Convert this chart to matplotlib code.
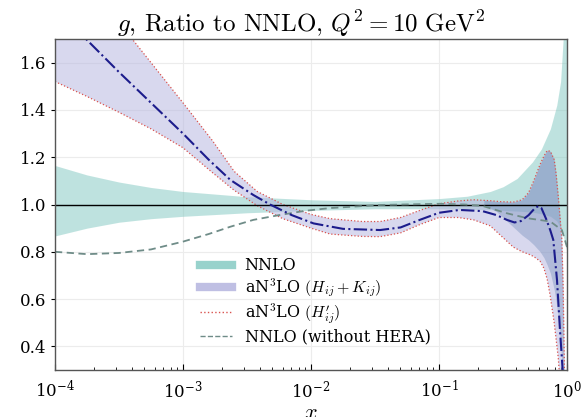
import numpy as np
import matplotlib
matplotlib.use("Agg")
import matplotlib.pyplot as plt
from matplotlib.lines import Line2D

plt.rcParams["font.family"] = "DejaVu Serif"
plt.rcParams["mathtext.fontset"] = "cm"

# ---- valores (log10 x) ----
# banda NNLO
nnlo_lx = [-4, -3.75, -3.5, -3.25, -3, -2.5, -2, -1.5, -1, -0.78, -0.6, -0.5,
           -0.39, -0.27, -0.2, -0.13, -0.08, -0.05, -0.03, 0]
nnlo_up = [1.165, 1.125, 1.095, 1.072, 1.055, 1.033, 1.02, 1.013, 1.025, 1.035,
           1.055, 1.075, 1.11, 1.18, 1.235, 1.32, 1.42, 1.52, 1.7, 1.9]
nnlo_lo = [0.867, 0.90, 0.925, 0.94, 0.95, 0.965, 0.975, 0.982, 0.982, 0.98,
           0.978, 0.975, 0.972, 0.968, 0.96, 0.95, 0.93, 0.9, 0.87, 0.8]

# banda aN3LO (bordas vermelhas pontilhadas)
n3_lx = [-4, -3.75, -3.5, -3.25, -3.0, -2.77, -2.6, -2.42, -2.22, -2.0, -1.85,
         -1.6, -1.46, -1.3, -1.15, -1.0, -0.85, -0.73, -0.6, -0.52, -0.42,
         -0.35, -0.3, -0.26, -0.21, -0.18, -0.155, -0.13, -0.10, -0.085,
         -0.068, -0.055, -0.04, -0.03, -0.02, 0]
n3_up = [2.11, 1.94, 1.77, 1.60, 1.43, 1.27, 1.14, 1.055, 1.0, 0.958, 0.94,
         0.928, 0.928, 0.945, 0.975, 1.003, 1.015, 1.02, 1.016, 1.012, 1.01,
         1.02, 1.05, 1.10, 1.17, 1.205, 1.228, 1.225, 1.19, 1.13, 1.033, 0.95,
         0.85, 0.65, 0.3, 0.0]
n3_lo = [1.52, 1.457, 1.39, 1.32, 1.24, 1.135, 1.06, 0.995, 0.94, 0.90, 0.875,
         0.865, 0.864, 0.88, 0.915, 0.945, 0.945, 0.935, 0.91, 0.87, 0.82,
         0.80, 0.79, 0.78, 0.76, 0.73, 0.685, 0.61, 0.50, 0.43, 0.35, 0.25,
         0.15, 0.1, 0.05, 0.0]

# regiao mais escura em x alto
dk_lx = [-0.65, -0.55, -0.47, -0.42, -0.35, -0.3, -0.26, -0.21, -0.18, -0.155,
         -0.13, -0.10, -0.085, -0.068, -0.055, -0.04, -0.03, -0.02]
dk_up = [1.018, 1.013, 1.011, 1.01, 1.02, 1.05, 1.10, 1.17, 1.205, 1.228,
         1.225, 1.19, 1.13, 1.033, 0.95, 0.85, 0.65, 0.3]
dk_lo = [1.0, 0.97, 0.93, 0.905, 0.87, 0.85, 0.83, 0.80, 0.775, 0.745,
         0.71, 0.64, 0.59, 0.52, 0.44, 0.33, 0.22, 0.1]

# curva central aN3LO (traco-ponto)
cen_lx = [-3.85, -3.5, -3.25, -3.0, -2.8, -2.63, -2.45, -2.32, -2.15, -1.98,
          -1.75, -1.46, -1.3, -1.15, -1.0, -0.84, -0.66, -0.55, -0.47, -0.41,
          -0.36, -0.3, -0.25, -0.225, -0.2, -0.16, -0.13, -0.107, -0.078,
          -0.055, -0.034, -0.02]
cen_y = [1.75, 1.56, 1.43, 1.30, 1.19, 1.104, 1.04, 1.0, 0.955, 0.92, 0.897,
         0.892, 0.903, 0.935, 0.965, 0.977, 0.972, 0.955, 0.935, 0.924, 0.93,
         0.955, 0.985, 0.993, 0.985, 0.935, 0.89, 0.85, 0.68, 0.47, 0.30, 0.1]

# NNLO sem HERA (tracejada)
nh_lx = [-4, -3.75, -3.5, -3.25, -3, -2.8, -2.63, -2.45, -2.24, -2.05, -1.85,
         -1.46, -1.0, -0.8, -0.66, -0.47, -0.31, -0.13, -0.04, 0]
nh_y = [0.80, 0.79, 0.795, 0.81, 0.843, 0.875, 0.906, 0.935, 0.956, 0.973,
        0.985, 0.998, 1.003, 1.0, 0.994, 0.963, 0.942, 0.928, 0.892, 0.82]

x_ticks = [1e-4, 1e-3, 1e-2, 1e-1, 1]
x_labels = [r"$10^{-4}$", r"$10^{-3}$", r"$10^{-2}$", r"$10^{-1}$", r"$10^{0}$"]
y_ticks = [0.4, 0.6, 0.8, 1.0, 1.2, 1.4, 1.6]

teal = "#7fc7c0"
lav = "#b8b8e0"
red = "#d9534f"
navy = "#1c1c8c"
cinza = "#6f8c88"

fig = plt.figure(figsize=(5.83, 4.17), dpi=100)
ax = fig.add_axes([55 / 583, 47 / 417, 512 / 583, 331 / 417])

xs = lambda l: 10 ** np.array(l)

ax.fill_between(xs(nnlo_lx), nnlo_lo, nnlo_up, color=teal, alpha=0.5, lw=0)
ax.fill_between(xs(n3_lx), n3_lo, n3_up, color=lav, alpha=0.55, lw=0)
ax.fill_between(xs(dk_lx), dk_lo, dk_up, color="#4a6fa5", alpha=0.28, lw=0)
ax.plot(xs(n3_lx), n3_up, ls=":", color=red, lw=0.9)
ax.plot(xs(n3_lx), n3_lo, ls=":", color=red, lw=0.9)
ax.axhline(1.0, color="k", lw=1.0)
ax.plot(xs(nh_lx), nh_y, ls=(0, (4, 2.5)), color=cinza, lw=1.3)
ax.plot(xs(cen_lx), cen_y, ls="-.", color=navy, lw=1.5)

ax.set_xscale("log")
ax.set_xlim(1e-4, 1)
ax.set_ylim(0.3, 1.7)
ax.set_xticks(x_ticks)
ax.set_xticklabels(x_labels)
for t in ax.get_xticklabels():
    t.set_math_fontfamily("dejavuserif")
ax.set_yticks(y_ticks)
ax.set_yticklabels([f"{v:.1f}" for v in y_ticks])
ax.tick_params(axis="x", which="both", direction="in", labelsize=12, pad=7)
ax.tick_params(axis="x", which="major", length=4)
ax.tick_params(axis="x", which="minor", length=2)
ax.tick_params(axis="y", direction="out", length=3, labelsize=12)
ax.grid(True, color="#ececec", lw=0.8)
ax.set_axisbelow(True)
for s in ax.spines.values():
    s.set_color("#555555")
    s.set_linewidth(1.0)

ax.set_title(r"$g$, Ratio to NNLO, $Q^2=10\ \mathrm{GeV}^2$", fontsize=18,
             family="cmr10", pad=4, x=0.48)
ax.set_xlabel(r"$x$", fontsize=16, labelpad=0)

handles = [
    Line2D([], [], color=teal, lw=6, alpha=0.8),
    Line2D([], [], color=lav, lw=6, alpha=0.9),
    Line2D([], [], color=red, lw=1, ls=":"),
    Line2D([], [], color=cinza, lw=1, ls="--"),
]
labels = ["NNLO", r"aN$^3$LO $(H_{ij}+K_{ij})$", r"aN$^3$LO $(H_{ij}')$",
          "NNLO (without HERA)"]
ax.legend(handles, labels, loc="lower left", bbox_to_anchor=(0.255, 0.03),
          frameon=False, fontsize=11.5, handlelength=2.0, labelspacing=0.15)

plt.savefig("out.png", dpi=100)
